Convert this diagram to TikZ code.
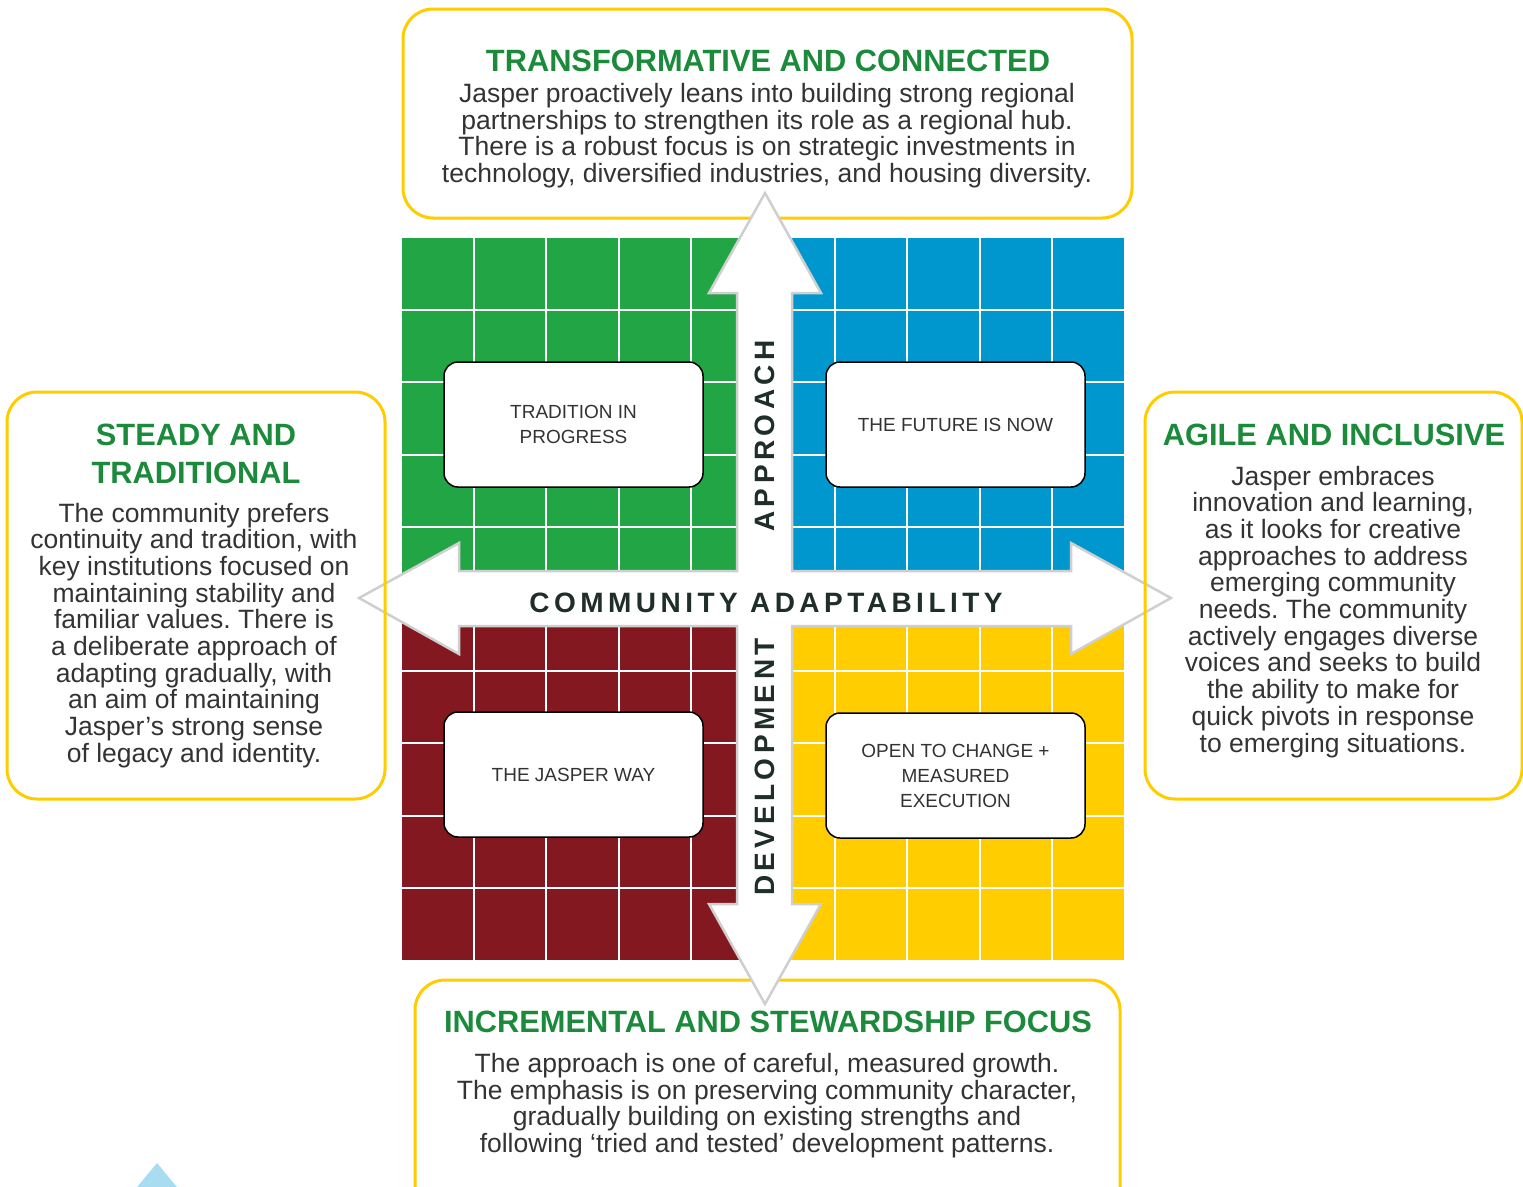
\documentclass[tikz,border=0pt]{standalone}
\usepackage{fontspec}
\setmainfont{Liberation Sans}
\newfontfamily\axisfont[LetterSpace=16]{Liberation Sans}
\usepackage{tikz}
\frenchspacing

\definecolor{quadgreen}{HTML}{22A645}
\definecolor{quadblue}{HTML}{0097CF}
\definecolor{quadred}{HTML}{841820}
\definecolor{quadyellow}{HTML}{FFCD00}
\definecolor{boxyellow}{HTML}{FFCC00}
\definecolor{titlegreen}{HTML}{1B8A3B}
\definecolor{bodygray}{HTML}{333333}
\definecolor{axisdark}{HTML}{1F2E29}
\definecolor{crossgray}{HTML}{CFCFCF}
\definecolor{paleblue}{HTML}{A8DCF0}

% multi-line texts are anchored at the baseline of their last line
\tikzset{
		outerbox/.style={draw=boxyellow, line width=3pt, rounded corners=30pt},
		gridline/.style={white, line width=2pt},
		crossarrow/.style={draw=crossgray, fill=white, line width=2.5pt, line join=miter},
		scenario/.style={draw=black, fill=white, line width=1.5pt, rounded corners=14pt,
			minimum width=259pt, minimum height=125pt, align=center, text=bodygray,
			font=\fontsize{19}{25}\selectfont},
		headline/.style={anchor=base, align=center, text=titlegreen,
			font=\fontsize{30.8}{38}\selectfont\bfseries},
		blurb/.style={anchor=base, align=center, text=bodygray, inner sep=0pt,
			font=\fontsize{26.5}{26.7}\selectfont},
		axislabel/.style={text=axisdark, inner sep=0pt,
			font=\axisfont\fontsize{28}{28}\selectfont\bfseries}
	}

\begin{document}
\begin{tikzpicture}[x=1pt,y=-1pt]
	\clip (0,0) rectangle (1523,1186);

	% top and bottom frames sit under the cross
	\draw[outerbox] (403,9) rectangle (1132,218);
	\draw[outerbox] (415,980) rectangle (1120,1240);

	% the four quadrants
	\fill[quadgreen]  (402,238) rectangle (765,598);
	\fill[quadblue]   (765,238) rectangle (1124,598);
	\fill[quadred]    (402,598) rectangle (765,960);
	\fill[quadyellow] (765,598) rectangle (1124,960);
	\foreach \k in {1,...,9} {
		\draw[gridline] ({402+72.2*\k},238) -- ({402+72.2*\k},960);
		\draw[gridline] (402,{238+72.2*\k}) -- (1124,{238+72.2*\k});
	}

	% the cross of arrows
	\draw[crossarrow] (765,193) -- (821,293) -- (792,293) -- (792,571) -- (1071,571)
		-- (1071,543) -- (1171,598) -- (1071,654) -- (1071,626) -- (792,626)
		-- (792,904) -- (821,904) -- (765,1004) -- (709,904) -- (737,904)
		-- (737,626) -- (459,626) -- (459,654) -- (359,598) -- (459,543)
		-- (459,571) -- (737,571) -- (737,293) -- (709,293) -- cycle;

	% side frames drawn over the arrow tips
	\draw[outerbox] (7,392) rectangle (385,799);
	\draw[outerbox] (1145,392) rectangle (1522,799);

	\node[scenario] (tradition)  at (573.5,424.5) {TRADITION IN\\PROGRESS};
	\node[scenario] (future)     at (955.5,424.5) {THE FUTURE IS NOW};
	\node[scenario] (jasperway)  at (573.5,774.5) {THE JASPER WAY};
	\node[scenario] (openchange) at (955.5,775.5) {OPEN TO CHANGE +\\MEASURED\\EXECUTION};

	\node[axislabel, anchor=base] (adapt) at (766,612) {COMMUNITY ADAPTABILITY};
	\node[axislabel, rotate=90] (approach) at (765,436) {APPROACH};
	\node[axislabel, rotate=90] (develop)  at (765,767) {DEVELOPMENT};

	% top
	\node[headline] (toptitle) at (768,71) {TRANSFORMATIVE AND CONNECTED};
	\node[blurb] (toptext) at (767,182.6) {Jasper proactively leans into building strong regional\\
		partnerships to strengthen its role as a regional hub.\\
		There is a robust focus is on strategic investments in\\
		technology, diversified industries, and housing diversity.};

	% left
	\node[headline] (lefttitle) at (196,483) {STEADY AND\\TRADITIONAL};
	\node[blurb] (lefttext) at (194,762.3) {The community prefers\\
		continuity and tradition, with\\
		key institutions focused on\\
		maintaining stability and\\
		familiar values. There is\\
		a deliberate approach of\\
		adapting gradually, with\\
		an aim of maintaining\\
		Jasper’s strong sense\\
		of legacy and identity.};

	% right
	\node[headline] (righttitle) at (1334,445) {AGILE AND INCLUSIVE};
	\node[blurb] (righttext) at (1333,752) {Jasper embraces\\
		innovation and learning,\\
		as it looks for creative\\
		approaches to address\\
		emerging community\\
		needs. The community\\
		actively engages diverse\\
		voices and seeks to build\\
		the ability to make for\\
		quick pivots in response\\
		to emerging situations.};

	% bottom
	\node[headline] (bottomtitle) at (768,1032) {INCREMENTAL AND STEWARDSHIP FOCUS};
	\node[blurb] (bottomtext) at (767,1152.6) {The approach is one of careful, measured growth.\\
		The emphasis is on preserving community character,\\
		gradually building on existing strengths and\\
		following ‘tried and tested’ development patterns.};

	\fill[paleblue] (157,1163) -- (186,1198) -- (128,1198) -- cycle;
\end{tikzpicture}
\end{document}
